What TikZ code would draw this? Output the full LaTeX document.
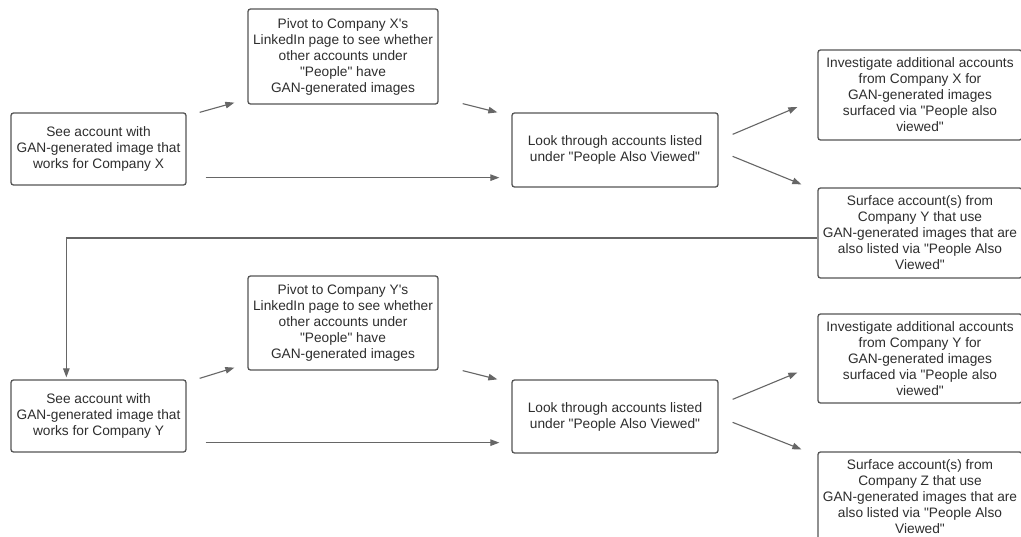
\documentclass[tikz,border=0pt]{standalone}
\usepackage{fontspec}
\setmainfont{Liberation Sans}[Ligatures=TeXOff]
\usetikzlibrary{calc,arrows.meta}
\definecolor{boxline}{HTML}{555555}
\definecolor{arrline}{HTML}{666666}
\definecolor{txt}{HTML}{2E2E2E}
\tikzset{
  box/.style={draw=boxline, line width=1.3pt, rounded corners=2.5pt, fill=white,
    align=center, text=txt, inner sep=0pt,
    font=\fontsize{13.7}{16}\selectfont},
  conn/.style={draw=arrline, line width=1.1pt, -{Triangle[length=9pt,width=6.5pt]}},
}
\begin{document}
\begin{tikzpicture}[x=1pt,y=-1pt]
\useasboundingbox (0,0) rectangle (1021,537);
\fill[white] (0,0) rectangle (1021,537);
% row 1
\node[box, minimum width=175pt, minimum height=72pt] (a1) at (98.5,149)
  {See account with\\GAN-generated image that\\works for Company X};
\node[box, minimum width=190pt, minimum height=95pt] (p1) at (343,56.5)
  {Pivot to Company X's\\LinkedIn page to see whether\\other accounts under\\"People" have\\GAN-generated images};
\node[box, minimum width=206pt, minimum height=74pt] (l1) at (615,150)
  {Look through accounts listed\\under "People Also Viewed"};
\node[box, minimum width=204pt, minimum height=90pt] (i1) at (920,95)
  {Investigate additional accounts\\from Company X for\\GAN-generated images\\surfaced via "People also\\viewed"};
\node[box, minimum width=204pt, minimum height=90pt] (s1) at (920,233)
  {Surface account(s) from\\Company Y that use\\GAN-generated images that are\\also listed via "People Also\\Viewed"};
% row 2
\node[box, minimum width=175pt, minimum height=72pt] (a2) at (98.5,416)
  {See account with\\GAN-generated image that\\works for Company Y};
\node[box, minimum width=190pt, minimum height=94pt] (p2) at (343,323)
  {Pivot to Company Y's\\LinkedIn page to see whether\\other accounts under\\"People" have\\GAN-generated images};
\node[box, minimum width=206pt, minimum height=73pt] (l2) at (615,416.5)
  {Look through accounts listed\\under "People Also Viewed"};
\node[box, minimum width=204pt, minimum height=89pt] (i2) at (920,358.5)
  {Investigate additional accounts\\from Company Y for\\GAN-generated images\\surfaced via "People also\\viewed"};
\node[box, minimum width=204pt, minimum height=90pt] (s2) at (920,497)
  {Surface account(s) from\\Company Z that use\\GAN-generated images that are\\also listed via "People Also\\Viewed"};
% connectors row 1
\draw[conn] ($(a1.north east)+(13,0)$) -- ($(p1.south west)+(-13,-2)$);
\draw[conn] ($(a1.south east)+(19,-8)$) -- ($(l1.south west)+(-12,-10)$);
\draw[conn] ($(p1.south east)+(24,-1)$) -- ($(l1.north west)+(-14,0)$);
\draw[conn] ($(l1.north east)+(14,22)$) -- ($(i1.west)+(-20,12)$);
\draw[conn] ($(l1.north east)+(14,44)$) -- ($(s1.north west)+(-16,-3)$);
% feedback loop
\draw[conn] ($(s1.west)+(0,5)$) -| ($(a2.north west)+(56,-2)$);
% connectors row 2
\draw[conn] ($(a2.north east)+(13,-1)$) -- ($(p2.south west)+(-13,-3)$);
\draw[conn] ($(a2.south east)+(19,-10)$) -- ($(l2.south west)+(-12,-11)$);
\draw[conn] ($(p2.south east)+(24,0)$) -- ($(l2.north west)+(-14,0)$);
\draw[conn] ($(l2.north east)+(14,20)$) -- ($(i2.west)+(-20,14)$);
\draw[conn] ($(l2.north east)+(14,43)$) -- ($(s2.north west)+(-16,-2)$);
\end{tikzpicture}
\end{document}
